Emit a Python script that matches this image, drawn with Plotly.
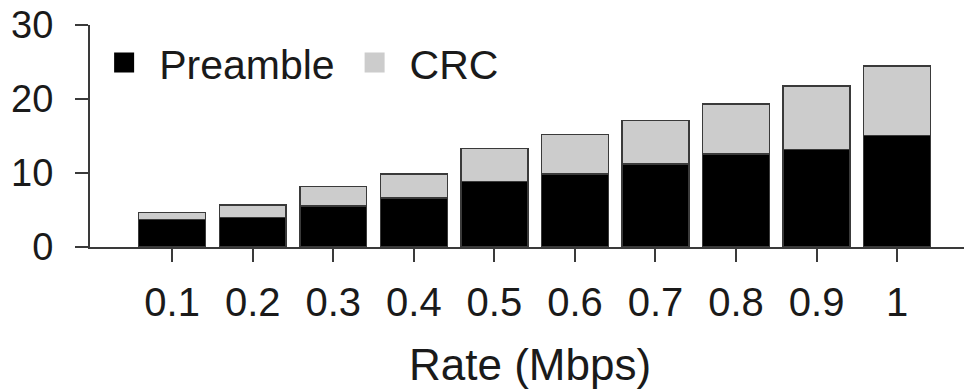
import plotly.graph_objects as go

rates = ["0.1", "0.2", "0.3", "0.4", "0.5", "0.6", "0.7", "0.8", "0.9", "1"]
preamble = [3.7, 3.97, 5.55, 6.65, 8.85, 9.88, 11.23, 12.58, 13.18, 15.07]
crc = [0.95, 1.73, 2.62, 3.2, 4.45, 5.32, 5.87, 6.72, 8.57, 9.38]
y_ticks = [0, 10, 20, 30]

FONT = "Liberation Sans, Arial, sans-serif"
LINE = "#3a3a3a"

fig = go.Figure()
fig.add_trace(go.Bar(x=rates, y=preamble, name="Preamble", marker=dict(color="#000000", line=dict(color=LINE, width=1.5)), showlegend=False))
fig.add_trace(go.Bar(x=rates, y=crc, name="CRC", marker=dict(color="#cccccc", line=dict(color=LINE, width=1.5)), showlegend=False))
# legend entries
fig.add_trace(go.Scatter(x=[None], y=[None], mode="markers", name="Preamble",
                         marker=dict(symbol="square", size=24, color="#000000", line=dict(color="#000000", width=4))))
fig.add_trace(go.Scatter(x=[None], y=[None], mode="markers", name="CRC",
                         marker=dict(symbol="square", size=24, color="#cccccc", line=dict(color="#cccccc", width=4))))

fig.update_layout(
    barmode="stack",
    bargap=0.17,
    width=964, height=389,
    margin=dict(l=90, r=0, t=25, b=142),
    paper_bgcolor="white", plot_bgcolor="white",
    font=dict(family=FONT, color="#1a1a1a"),
    showlegend=True,
    legend=dict(orientation="h", x=-0.001, y=0.98, xanchor="left", yanchor="top",
                font=dict(size=41, family=FONT, color="#1a1a1a"),
                bgcolor="rgba(0,0,0,0)", itemwidth=60, tracegroupgap=0,
                traceorder="normal", itemsizing="trace"),
    xaxis=dict(
        type="category", range=[-1.02, 9.83],
        showline=True, linecolor=LINE, linewidth=2,
        ticks="outside", ticklen=13, tickwidth=2, tickcolor=LINE,
        tickfont=dict(size=40, family=FONT, color="#1a1a1a"),
        ticklabelstandoff=6,
        showgrid=False, zeroline=False,
    ),
    yaxis=dict(
        range=[0, 30], tickvals=y_ticks,
        showline=True, linecolor=LINE, linewidth=2,
        ticks="outside", ticklen=13, tickwidth=2, tickcolor=LINE,
        tickfont=dict(size=38, family=FONT, color="#1a1a1a"),
        ticklabelstandoff=14,
        showgrid=False, zeroline=False,
    ),
    annotations=[dict(text="Rate (Mbps)", xref="paper", yref="paper", x=(530 - 90) / 874, y=0,
                      yshift=-91, xanchor="center", yanchor="top", showarrow=False,
                      font=dict(size=44, family=FONT, color="#1a1a1a"))],
)

fig.write_html("out.html")
